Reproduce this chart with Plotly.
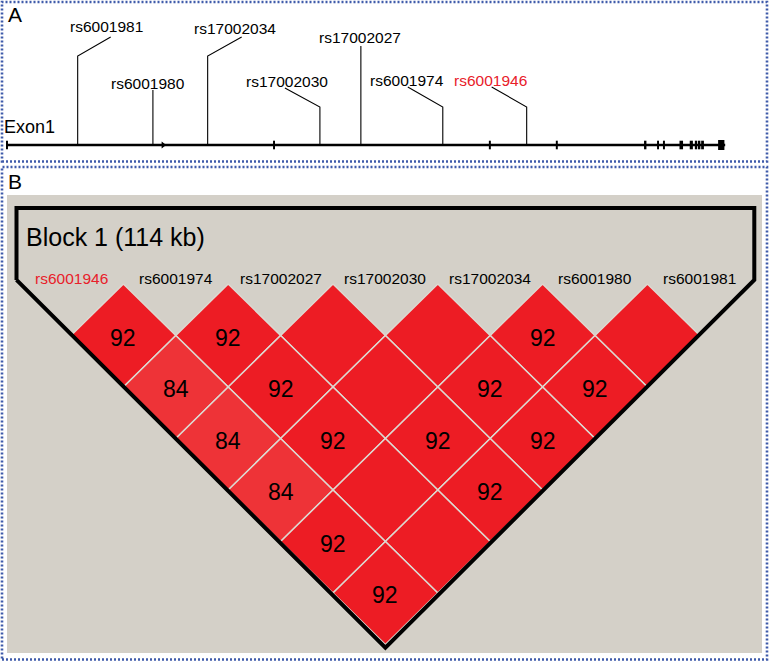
import plotly.graph_objects as go

# ---------------- data ----------------
# panel A: gene model, positions in kb from the start of exon 1
snp_names = ["rs6001981", "rs6001980", "rs17002034", "rs17002030",
             "rs17002027", "rs6001974", "rs6001946"]
snp_kb = [18.2, 37.3, 51.2, 79.7, 90.1, 110.9, 132.2]
exon_start_kb = [0.0, 67.8, 122.6, 139.6, 162.0, 165.3, 166.8, 171.0, 173.6, 174.9, 175.7, 176.5, 180.8]
exon_end_kb = [0.5, 68.3, 123.1, 140.1, 162.6, 165.8, 167.3, 171.9, 174.4, 175.5, 176.3, 177.2, 182.4]
gene_end_kb = 182.6
arrow_kb = 39.9

# panel B: LD block, D' x 100 for every pair (row 1 = neighbours ... row 6 = both ends)
ld_snps = ["rs6001946", "rs6001974", "rs17002027", "rs17002030",
           "rs17002034", "rs6001980", "rs6001981"]
ld_rows = [
    [92, 92, 100, 100, 92, 100],
    [84, 92, 100, 92, 92],
    [84, 92, 92, 92],
    [84, 100, 92],
    [92, 100],
    [92],
]
highlight = "rs6001946"
block_label = "Block 1 (114 kb)"

# ---------------- layout helpers ----------------
W, H = 770, 662
PX_PER_KB = 449 / 114          # rs6001981 -> rs6001946 spans 114 kb
GENE_Y = 145
# stem top, elbow offset (px) and label height for each SNP in panel A
stem_top = [56, 90, 56, 107, 46, 107, 107]
elbow_dx = [33, 0, 34, -35, 0, -35, -35]
elbow_y = [37, 90, 37, 88, 46, 87, 87]
label_dx = [29, -5, 27, -33, -1, -36, -36]
label_y = [26, 83, 28, 81, 37, 80, 80]

RED = "#E8202A"
CELL_RED = "#ED1C24"
CELL_PINK = "#EE3337"
GREY_BG = "#D4D0C8"
BORDER = "#3F5BAA"
FONT = "Liberation Sans, Arial, sans-serif"


def kb(px_offset):
    return px_offset / PX_PER_KB


def cell_colour(v):
    return CELL_PINK if v < 90 else CELL_RED


fig = go.Figure()

# ---- panel A ----
fig.add_trace(go.Scatter(x=[0, gene_end_kb], y=[GENE_Y, GENE_Y], mode="lines",
                         line=dict(color="black", width=2.5), xaxis="x", yaxis="y"))
fig.add_trace(go.Scatter(x=[arrow_kb], y=[GENE_Y], mode="markers",
                         marker=dict(symbol="triangle-right", size=6, color="black"),
                         xaxis="x", yaxis="y"))

sx, sy = [], []
for i, p in enumerate(snp_kb):
    sx += [p, p, p + kb(elbow_dx[i]), None]
    sy += [GENE_Y, stem_top[i], elbow_y[i], None]
fig.add_trace(go.Scatter(x=sx, y=sy, mode="lines", line=dict(color="black", width=1.1),
                         xaxis="x", yaxis="y"))

shapes = []
for a, b in zip(exon_start_kb, exon_end_kb):
    tall = 5 if b - a > 1 else 4.3
    shapes.append(dict(type="rect", xref="x", yref="y", x0=a, x1=b,
                       y0=GENE_Y - tall, y1=GENE_Y + tall,
                       fillcolor="black", line=dict(width=0)))

annotations = []
for i, name in enumerate(snp_names):
    annotations.append(dict(x=snp_kb[i] + kb(label_dx[i]), y=label_y[i], xref="x", yref="y",
                            text=name, showarrow=False,
                            font=dict(family=FONT, size=15.5, color=RED if name == highlight else "black")))
annotations.append(dict(x=kb(-4), y=127, xref="x", yref="y", text="Exon1", showarrow=False,
                        xanchor="left", font=dict(family=FONT, size=18, color="black")))

# ---- panel B ----
n = len(ld_snps)
for d, row in enumerate(ld_rows, start=1):
    for i, v in enumerate(row):
        j = i + d
        cx, cy = (i + j) / 2, d / 2
        fig.add_trace(go.Scatter(x=[cx, cx + 0.5, cx, cx - 0.5, cx],
                                 y=[cy - 0.5, cy, cy + 0.5, cy, cy - 0.5],
                                 mode="lines", fill="toself", fillcolor=cell_colour(v),
                                 line=dict(color="#DDD9D1", width=1.5),
                                 xaxis="x2", yaxis="y2"))
        if v < 100:
            annotations.append(dict(x=cx, y=cy, xref="x2", yref="y2", text=str(v),
                                    showarrow=False, yshift=-2,
                                    font=dict(family=FONT, size=23, color="black")))

left, right = -0.52, n - 1 + 0.52
top, shoulder, bottom = -0.738, -0.04, (n - 1) / 2 + 0.53
fig.add_trace(go.Scatter(x=[left, left, right, right, (n - 1) / 2, left],
                         y=[shoulder, top, top, shoulder, bottom, shoulder],
                         mode="lines", line=dict(color="black", width=4),
                         xaxis="x2", yaxis="y2"))

for i, name in enumerate(ld_snps):
    annotations.append(dict(x=i, y=-0.05, xref="x2", yref="y2", text=name, showarrow=False,
                            font=dict(family=FONT, size=15.5, color=RED if name == highlight else "black")))
annotations.append(dict(x=-0.45, y=-0.456, xref="x2", yref="y2", text=block_label,
                        showarrow=False, xanchor="left",
                        font=dict(family=FONT, size=25, color="black")))

# panel letters and frames (paper coordinates)
def px(xp, yp):
    return xp / W, 1 - yp / H

for letter, (lx, ly) in [("A", (15, 15)), ("B", (15, 181))]:
    x, y = px(lx, ly)
    annotations.append(dict(x=x, y=y, xref="paper", yref="paper", text=letter, showarrow=False,
                            xanchor="center", yanchor="middle",
                            font=dict(family=FONT, size=21, color="black")))

bx0, by0 = px(7, 195)
bx1, by1 = px(762, 653)
shapes.insert(0, dict(type="rect", xref="paper", yref="paper", x0=bx0, x1=bx1, y0=by1, y1=by0,
                      fillcolor=GREY_BG, line=dict(width=0), layer="below"))
for (a, b, c, e) in [(2, 2, 767, 161.5), (2, 167, 767, 659.5)]:
    x0, y0 = px(a, b)
    x1, y1 = px(c, e)
    shapes.append(dict(type="rect", xref="paper", yref="paper", x0=x0, x1=x1, y0=y1, y1=y0,
                       line=dict(color=BORDER, width=2.6, dash="2px,2px")))

hidden = dict(visible=False, showgrid=False, zeroline=False, fixedrange=True)
fig.update_layout(
    width=W, height=H, margin=dict(l=0, r=0, t=0, b=0),
    paper_bgcolor="white", plot_bgcolor="rgba(0,0,0,0)", showlegend=False,
    xaxis=dict(hidden, range=[kb(-6), kb(W - 6)], domain=[0, 1]),
    yaxis=dict(hidden, range=[H, 0], domain=[0, 1]),
    xaxis2=dict(hidden, range=[-71 / 104.8, (W - 71) / 104.8], domain=[0, 1], anchor="y2"),
    yaxis2=dict(hidden, range=[(H - 284) / 103, -284 / 103], domain=[0, 1], anchor="x2"),
    shapes=shapes, annotations=annotations,
)

# page body has an 8px default margin; drop it so the figure fills the window
fig.write_html("out.html", config={"displayModeBar": False},
               post_script="document.body.style.margin='0';document.body.style.overflow='hidden';")
